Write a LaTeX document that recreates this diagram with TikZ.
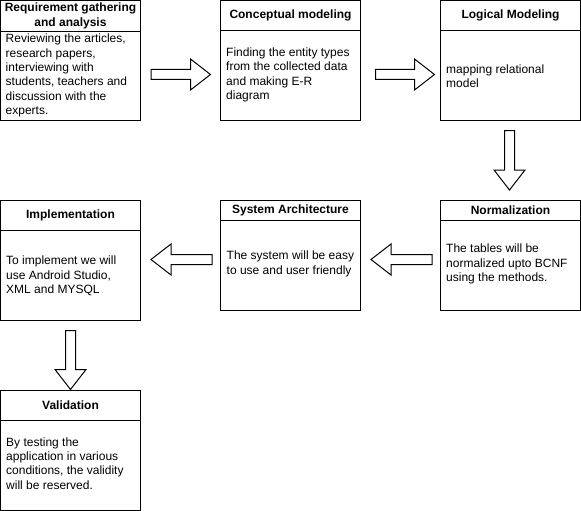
\documentclass[tikz,border=0pt]{standalone}
\usepackage{fontspec}
\setmainfont{Liberation Sans}
\usetikzlibrary{calc}

\tikzset{
  stage/.style={draw, line width=1pt, minimum width=140pt, inner sep=0pt, outer sep=0pt},
  divider/.style={line width=1pt},
  head/.style={font=\fontsize{12}{15}\selectfont\bfseries, align=center, inner sep=0pt},
  body/.style={font=\fontsize{12}{14.3}\selectfont, align=left, anchor=west, inner sep=0pt},
  % hollow block arrow drawn from the start point to the tip
  blockarrow/.style={draw, line width=1pt, line join=miter, fill=white,
    to path={
      ($(\tikztostart)!5pt!90:(\tikztotarget)$)
      -- ($(\tikztotarget)!20pt!(\tikztostart)!5pt!90:(\tikztotarget)$)
      -- ($(\tikztotarget)!20pt!(\tikztostart)!15.5pt!90:(\tikztotarget)$)
      -- (\tikztotarget)
      -- ($(\tikztotarget)!20pt!(\tikztostart)!15.5pt!-90:(\tikztotarget)$)
      -- ($(\tikztotarget)!20pt!(\tikztostart)!5pt!-90:(\tikztotarget)$)
      -- ($(\tikztostart)!5pt!-90:(\tikztotarget)$)
      -- cycle
    }}
}

\begin{document}
\begin{tikzpicture}[x=1pt, y=-1pt]
\useasboundingbox[fill=white] (0,0) rectangle (581,511);

% ---- stage boxes ----
\node[stage, minimum height=120pt] (req) at (70.5,60.5) {};
\node[stage, minimum height=120pt] (con) at (290.5,60.5) {};
\node[stage, minimum height=120pt] (log) at (510.5,60.5) {};
\node[stage, minimum height=110pt] (nor) at (510.5,255.5) {};
\node[stage, minimum height=110pt] (sys) at (290.5,255.5) {};
\node[stage, minimum height=120pt] (imp) at (70.5,260.5) {};
\node[stage, minimum height=120pt] (val) at (70.5,450.5) {};

% ---- header dividers ----
\draw[divider] ($(req.north west)+(0,31)$) -- ($(req.north east)+(0,31)$);
\draw[divider] ($(con.north west)+(0,30)$) -- ($(con.north east)+(0,30)$);
\draw[divider] ($(log.north west)+(0,30)$) -- ($(log.north east)+(0,30)$);
\draw[divider] ($(nor.north west)+(0,20)$) -- ($(nor.north east)+(0,20)$);
\draw[divider] ($(sys.north west)+(0,20)$) -- ($(sys.north east)+(0,20)$);
\draw[divider] ($(imp.north west)+(0,30)$) -- ($(imp.north east)+(0,30)$);
\draw[divider] ($(val.north west)+(0,30)$) -- ($(val.north east)+(0,30)$);

% ---- headers ----
\node[head] (reqH) at (70.5,16) {Requirement gathering\\and analysis};
\node[head] (conH) at (290.5,15.5) {Conceptual modeling};
\node[head] (logH) at (510.5,15.5) {Logical Modeling};
\node[head] (norH) at (510.5,210.5) {Normalization};
\node[head] (sysH) at (290.5,210.5) {System Architecture};
\node[head] (impH) at (70.5,215.5) {Implementation};
\node[head] (valH) at (70.5,405.5) {Validation};

% ---- descriptions ----
\node[body] (reqB) at (5.5,75.5) {Reviewing the articles,\\research papers,\\interviewing with\\students, teachers and\\discussion with the\\experts.};
\node[body] (conB) at (226,75) {Finding the entity types\\from the collected data\\and making E-R\\diagram};
\node[body] (logB) at (446,76) {mapping relational\\model};
\node[body] (norB) at (446,264) {The tables will be\\normalized upto BCNF\\using the methods.};
\node[body] (sysB) at (226.5,264) {The system will be easy\\to use and user friendly};
\node[body] (impB) at (6,276) {To implement we will\\use Android Studio,\\XML and MYSQL};
\node[body] (valB) at (6,463.5) {By testing the\\application in various\\conditions, the validity\\will be reserved.};

% ---- arrow end points ----
\coordinate (a1s) at (151,74.5);   \coordinate (a1t) at (210.5,74.5);
\coordinate (a2s) at (375.5,74.5); \coordinate (a2t) at (434.5,74.5);
\coordinate (a3s) at (509.5,130.5);\coordinate (a3t) at (509.5,190);
\coordinate (a4s) at (432,259.5);  \coordinate (a4t) at (371,259.5);
\coordinate (a5s) at (212,259.5);  \coordinate (a5t) at (151,259.5);
\coordinate (a6s) at (70.5,330.5); \coordinate (a6t) at (70.5,389.5);

% ---- flow arrows ----
\draw[blockarrow] (a1s) to (a1t);
\draw[blockarrow] (a2s) to (a2t);
\draw[blockarrow] (a3s) to (a3t);
\draw[blockarrow] (a4s) to (a4t);
\draw[blockarrow] (a5s) to (a5t);
\draw[blockarrow] (a6s) to (a6t);
\end{tikzpicture}
\end{document}
